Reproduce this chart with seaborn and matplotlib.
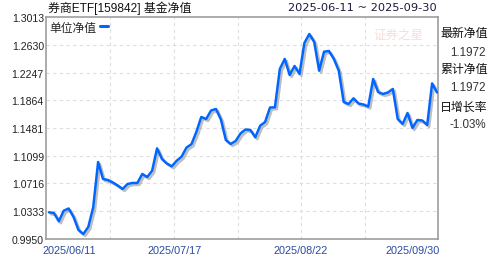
import numpy as np
import pandas as pd
import matplotlib
matplotlib.use("Agg")
import matplotlib.pyplot as plt
import matplotlib.patheffects as pe
import matplotlib.transforms as mtransforms
import seaborn as sns

# ---- data ----
dates = pd.bdate_range("2025-06-11", "2025-09-30")
nav = [1.0318, 1.0309, 1.0194, 1.0340, 1.0371, 1.0254, 1.0074, 1.0019, 1.0116, 1.0387,
       1.1012, 1.0778, 1.0764, 1.0730, 1.0688, 1.0640, 1.0709, 1.0723, 1.0723, 1.0847,
       1.0805, 1.0892, 1.1201, 1.1054, 1.0992, 1.0953, 1.1030, 1.1086, 1.1212, 1.1257,
       1.1426, 1.1633, 1.1606, 1.1723, 1.1744, 1.1599, 1.1316, 1.1261, 1.1302, 1.1406,
       1.1461, 1.1454, 1.1353, 1.1513, 1.1564, 1.1764, 1.1767, 1.2296, 1.2434, 1.2213,
       1.2337, 1.2227, 1.2654, 1.2778, 1.2668, 1.2272, 1.2534, 1.2544, 1.2434, 1.2272,
       1.1840, 1.1813, 1.1891, 1.1820, 1.1806, 1.1778, 1.2158, 1.1978, 1.1951, 1.1971,
       1.2020, 1.1606, 1.1537, 1.1688, 1.1481, 1.1592, 1.1585, 1.1523, 1.2097, 1.1972]
yticks = [0.9950, 1.0333, 1.0716, 1.1099, 1.1481, 1.1864, 1.2247, 1.2630, 1.3013]
xtick_dates = ["2025/06/11", "2025/07/17", "2025/08/22", "2025/09/30"]
title = "券商ETF[159842] 基金净值"
range_text = "2025-06-11 ~ 2025-09-30"
series_name = "单位净值"
side_labels = ["最新净值", "累计净值", "日增长率"]
side_values = ["1.1972", "1.1972", "-1.03%"]

df = pd.DataFrame({"i": np.arange(len(nav)), "nav": nav})

sns.set_style("white")
plt.rcParams["font.family"] = ["Liberation Sans", "Noto Sans CJK SC", "DejaVu Sans"]

fig = plt.figure(figsize=(4.88, 2.55), dpi=100)
ax = fig.add_axes([46 / 488, 15 / 255, 392 / 488, 222 / 255])

sns.lineplot(data=df, x="i", y="nav", ax=ax, color="#0066ff", linewidth=1.8,
             label=series_name, zorder=5,
             path_effects=[pe.SimpleLineShadow(offset=(1.4, -1.4), shadow_color="#a8a8a8", alpha=0.75),
                           pe.Normal()])

n = len(nav)
ax.set_xlim(-0.61, n - 1 + 0.2)
ax.set_ylim(yticks[0], yticks[-1])
ax.set_xlabel("")
ax.set_ylabel("")

# grid
for y in yticks[1:-1]:
    ax.axhline(y, color="#dedede", lw=0.8, ls=(0, (3, 3)), zorder=1)
for k in range(1, 6):
    ax.axvline(13 * k - 0.6, color="#dedede", lw=0.8, ls=(0, (3, 3)), zorder=1)

ax.set_yticks(yticks)
ax.set_yticklabels([f"{v:.4f}" for v in yticks])
ax.tick_params(axis="y", length=0, pad=1.5, labelsize=7.6, labelcolor="#222222")

date_str = [d.strftime("%Y/%m/%d") for d in dates]
xpos = [date_str.index(s) for s in xtick_dates]
ax.set_xticks(xpos)
ax.set_xticklabels(xtick_dates)
ax.tick_params(axis="x", length=0, pad=4, labelsize=7.8, labelcolor="#2b4ba0")
offs = [-6, -2, -4, 3]
has = ["left", "center", "center", "right"]
for lab, o, h in zip(ax.get_xticklabels(), offs, has):
    lab.set_ha(h)
    lab.set_transform(lab.get_transform() + mtransforms.ScaledTranslation(o / 100, 0, fig.dpi_scale_trans))

for s in ax.spines.values():
    s.set_visible(True)
    s.set_color("#969696")
    s.set_linewidth(1.1)

leg = ax.legend(loc="upper left", frameon=False, markerfirst=False, handlelength=0.7,
                handletextpad=0.3, fontsize=8.5, borderaxespad=0.1, borderpad=0.2,
                prop={"family": ["Noto Sans CJK SC"], "size": 8.5})
for h in leg.get_lines():
    h.set_path_effects([])
    h.set_linewidth(2.2)

# header texts
fig.text(48 / 488, 1 - 8 / 255, title, ha="left", va="center", fontsize=8.6, color="#111111",
         family=["Liberation Sans", "Noto Sans CJK SC"])
fig.text(437 / 488, 1 - 8 / 255, range_text, ha="right", va="center", fontsize=8.2,
         color="#1a1a3a", family=["DejaVu Sans"])
fig.text(398 / 488, 1 - 35 / 255, "证券之星", ha="center", va="center", fontsize=9,
         color="#f9dcdc", family=["Noto Sans CJK SC"], style="italic", zorder=0)

# side panel
ys_lab = [34, 70, 107]
ys_val = [53, 88, 125]
for lab, val, yl, yv in zip(side_labels, side_values, ys_lab, ys_val):
    fig.text(440 / 488, 1 - yl / 255, lab, ha="left", va="center", fontsize=8.6,
             color="#111111", family=["Noto Sans CJK SC"])
    fig.text(486 / 488, 1 - yv / 255, val, ha="right", va="center", fontsize=8.4,
             color="#333333", family=["Liberation Sans"])

fig.savefig("out.png", dpi=100)
